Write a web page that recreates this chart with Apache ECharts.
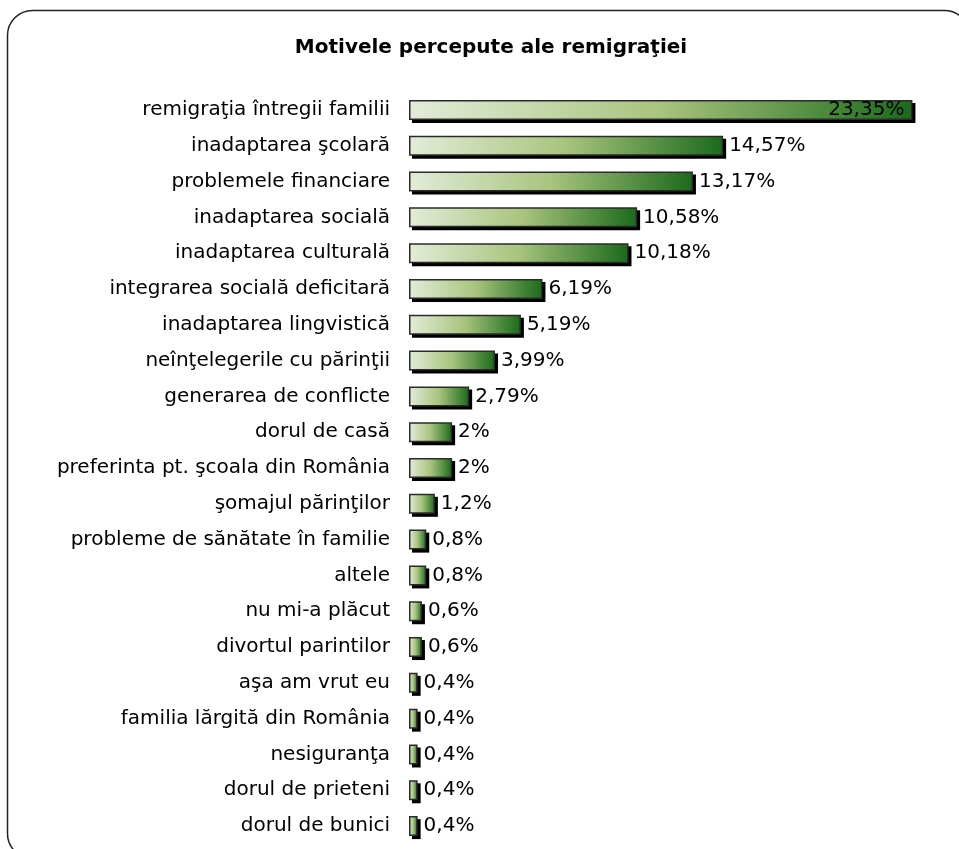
<!DOCTYPE html>
<html>
<head>
<meta charset="utf-8">
<script src="https://cdn.jsdelivr.net/npm/echarts@6/dist/echarts.min.js"></script>
<style>
    html, body { margin: 0; padding: 0; background: #fff; }
    #chart { width: 959px; height: 849px; }
</style>
</head>
<body>
<div id="chart"></div>
<script>
const categories = [
    'remigraţia întregii familii',
    'inadaptarea şcolară',
    'problemele financiare',
    'inadaptarea socială',
    'inadaptarea culturală',
    'integrarea socială deficitară',
    'inadaptarea lingvistică',
    'neînţelegerile cu părinţii',
    'generarea de conflicte',
    'dorul de casă',
    'preferinta pt. şcoala din România',
    'şomajul părinţilor',
    'probleme de sănătate în familie',
    'altele',
    'nu mi-a plăcut',
    'divortul parintilor',
    'aşa am vrut eu',
    'familia lărgită din România',
    'nesiguranţa',
    'dorul de prieteni',
    'dorul de bunici'
];
const values = [23.35, 14.57, 13.17, 10.58, 10.18, 6.19, 5.19, 3.99, 2.79, 2, 2, 1.2, 0.8, 0.8, 0.6, 0.6, 0.4, 0.4, 0.4, 0.4, 0.4];

const chart = echarts.init(document.getElementById('chart'));

const fmt = v => String(v).replace('.', ',') + '%';
const BAR_H = 20;

const barGradient = new echarts.graphic.LinearGradient(0, 0, 1, 0, [
    {offset: 0, color: '#e3ecd9'},
    {offset: 0.5, color: '#a8c47d'},
    {offset: 1, color: '#1b6a1b'}
]);

// black drop shadow behind each bar, offset down-right
const renderShadow = (params, api) => {
    const c = api.value(1);
    const p0 = api.coord([0, c]);
    const p1 = api.coord([api.value(0), c]);
    return {
        type: 'rect',
        shape: {x: p0[0] + 3, y: p0[1] - BAR_H / 2 + 3, width: p1[0] - p0[0], height: BAR_H},
        style: {fill: '#000'}
    };
};

chart.setOption({
    animation: false,
    title: {
        text: 'Motivele percepute ale remigraţiei',
        left: 486,
        textAlign: 'center',
        top: 33,
        textStyle: {
            fontFamily: 'DejaVu Sans',
            fontWeight: 'bold',
            fontSize: 20,
            color: '#000'
        }
    },
    graphic: [{
        type: 'rect',
        shape: {x: 7.5, y: 10.5, width: 962, height: 848, r: 25},
        style: {fill: 'none', stroke: '#222', lineWidth: 1.5},
        silent: true
    }],
    grid: {
        left: 409,
        top: 92,
        width: 539,
        height: 752
    },
    xAxis: {
        type: 'value',
        min: 0,
        max: 25,
        show: false
    },
    yAxis: {
        type: 'category',
        data: categories,
        inverse: true,
        axisLine: {show: false},
        axisTick: {show: false},
        axisLabel: {
            margin: 19,
            color: '#000',
            fontFamily: 'DejaVu Sans',
            fontSize: 20
        }
    },
    series: [
        {
            type: 'custom',
            z: 1,
            silent: true,
            renderItem: renderShadow,
            encode: {x: 0, y: 1},
            data: values.map((v, i) => [v, i])
        },
        {
            type: 'bar',
            z: 2,
            data: values.map((v, i) => ({
                value: v,
                label: i === 0 ? {position: 'insideRight', distance: 8} : undefined
            })),
            barWidth: BAR_H,
            itemStyle: {
                color: barGradient,
                borderColor: '#2b2b2b',
                borderWidth: 1.5
            },
            label: {
                show: true,
                position: 'right',
                distance: 6,
                color: '#000',
                fontFamily: 'DejaVu Sans',
                fontSize: 20,
                formatter: p => fmt(p.value)
            }
        }
    ]
});
</script>
</body>
</html>
